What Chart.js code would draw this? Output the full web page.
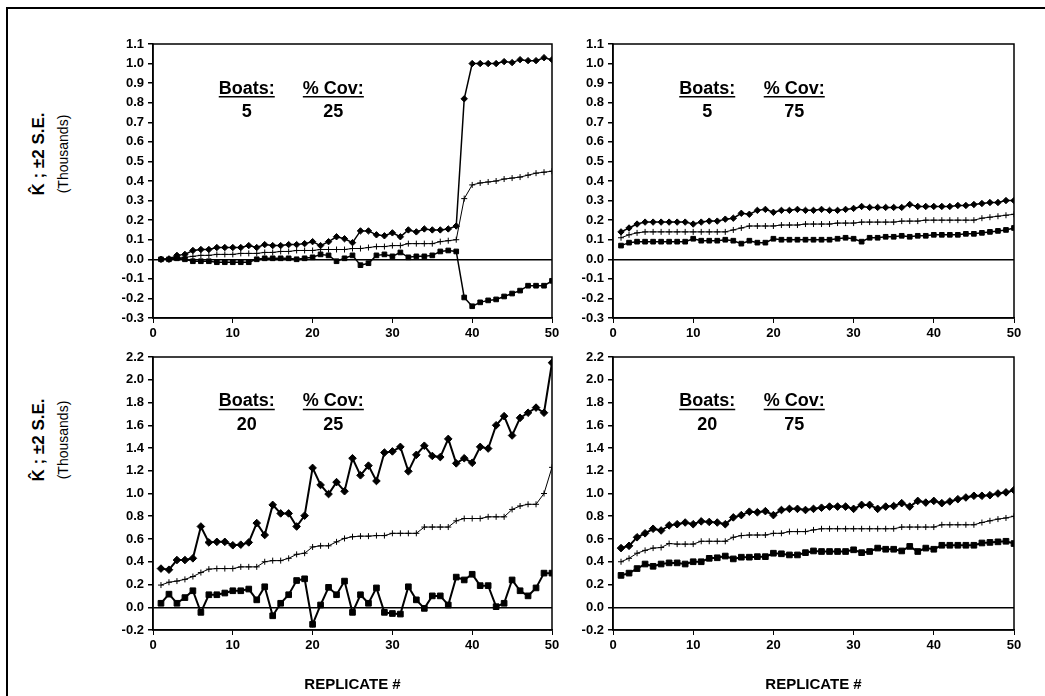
<!DOCTYPE html>
<html>
<head>
<meta charset="utf-8">
<script src="https://cdn.jsdelivr.net/npm/chart.js@4"></script>
<style>
  body { margin: 0; background: #fff; width: 1045px; height: 696px; overflow: hidden; position: relative;
         font-family: "Liberation Sans", Arial, sans-serif; }
  .frame { position: absolute; left: 6px; top: 7px; width: 1050px; height: 700px;
           border-top: 2px solid #000; border-left: 2px solid #000; }
  canvas { position: absolute; }
  .ytitle { position: absolute; white-space: nowrap; color: #000;
            transform: translate(-50%, -50%) rotate(-90deg); }
  .ytitle.main { font-weight: bold; font-size: 17px; }
  .ytitle.sub { font-size: 14px; }
</style>
</head>
<body>
<div class="frame"></div>

<div class="ytitle main" style="left:39px; top:154px;">K&#770; ; &plusmn;2 S.E.</div>
<div class="ytitle sub" style="left:63px; top:154px;">(Thousands)</div>
<div class="ytitle main" style="left:39px; top:440px;">K&#770; ; &plusmn;2 S.E.</div>
<div class="ytitle sub" style="left:63px; top:440px;">(Thousands)</div>

<canvas id="tl" width="462" height="316" style="left:100px; top:34px;"></canvas>
<canvas id="tr" width="464" height="316" style="left:560px; top:34px;"></canvas>
<canvas id="bl" width="462" height="349" style="left:100px; top:347px;"></canvas>
<canvas id="br" width="464" height="349" style="left:560px; top:347px;"></canvas>

<script>
// replicate number (x axis)
const replicates = [1,2,3,4,5,6,7,8,9,10,11,12,13,14,15,16,17,18,19,20,
  21,22,23,24,25,26,27,28,29,30,31,32,33,34,35,36,37,38,39,40,
  41,42,43,44,45,46,47,48,49,50];

// Boats 5, % Cov 25
const tlUpper = [0.0,0.0,0.02,0.025,0.045,0.05,0.05,0.06,0.06,0.06,
  0.06,0.07,0.06,0.075,0.07,0.07,0.075,0.075,0.08,0.09,
  0.07,0.09,0.115,0.105,0.085,0.145,0.145,0.125,0.12,0.135,
  0.115,0.15,0.14,0.155,0.15,0.15,0.155,0.17,0.82,1.0,
  1.0,1.0,1.0,1.01,1.005,1.02,1.015,1.015,1.03,1.02];
const tlMid = [0.0,0.005,0.01,0.01,0.015,0.02,0.02,0.025,0.025,0.025,
  0.03,0.03,0.03,0.035,0.035,0.04,0.04,0.045,0.045,0.045,
  0.05,0.05,0.05,0.05,0.055,0.055,0.06,0.065,0.065,0.07,
  0.07,0.08,0.08,0.08,0.08,0.09,0.095,0.1,0.31,0.38,
  0.39,0.395,0.40,0.41,0.415,0.42,0.43,0.44,0.445,0.45];
const tlLower = [0.0,0.0,0.005,0.0,-0.01,-0.01,-0.01,-0.015,-0.015,-0.015,
  -0.015,-0.015,0.0,0.005,0.005,0.005,0.005,0.0,0.005,0.01,
  0.025,0.02,-0.01,0.005,0.02,-0.03,-0.02,0.02,0.025,0.015,
  0.035,0.01,0.015,0.015,0.02,0.04,0.045,0.04,-0.195,-0.24,
  -0.22,-0.21,-0.205,-0.19,-0.175,-0.16,-0.135,-0.135,-0.135,-0.11];

// Boats 5, % Cov 75
const trUpper = [0.14,0.16,0.18,0.19,0.19,0.19,0.19,0.19,0.19,0.18,
  0.19,0.195,0.195,0.205,0.21,0.235,0.23,0.25,0.255,0.24,
  0.25,0.25,0.255,0.25,0.25,0.255,0.25,0.25,0.255,0.26,
  0.27,0.265,0.265,0.265,0.265,0.265,0.28,0.27,0.27,0.27,
  0.27,0.27,0.275,0.275,0.28,0.285,0.29,0.29,0.30,0.30];
const trMid = [0.11,0.125,0.135,0.14,0.14,0.14,0.14,0.14,0.14,0.14,
  0.14,0.14,0.14,0.14,0.15,0.16,0.17,0.17,0.17,0.17,
  0.175,0.175,0.175,0.18,0.18,0.18,0.18,0.185,0.185,0.185,
  0.19,0.19,0.19,0.19,0.19,0.195,0.195,0.195,0.2,0.2,
  0.2,0.2,0.2,0.2,0.2,0.21,0.215,0.22,0.225,0.23];
const trLower = [0.07,0.085,0.09,0.09,0.09,0.09,0.09,0.09,0.09,0.105,
  0.095,0.095,0.095,0.1,0.095,0.08,0.095,0.085,0.085,0.105,
  0.1,0.1,0.1,0.1,0.1,0.1,0.1,0.105,0.11,0.105,
  0.09,0.11,0.11,0.115,0.115,0.12,0.115,0.12,0.12,0.125,
  0.125,0.125,0.125,0.13,0.13,0.135,0.14,0.145,0.15,0.16];

// Boats 20, % Cov 25
const blUpper = [0.34,0.33,0.415,0.415,0.43,0.71,0.57,0.575,0.575,0.545,
  0.55,0.57,0.74,0.635,0.90,0.825,0.825,0.71,0.805,1.225,
  1.075,0.995,1.10,1.02,1.31,1.16,1.245,1.11,1.36,1.37,
  1.41,1.195,1.34,1.42,1.33,1.32,1.48,1.265,1.31,1.27,
  1.41,1.395,1.60,1.68,1.51,1.665,1.71,1.755,1.71,2.15];
const blMid = [0.195,0.22,0.23,0.245,0.27,0.305,0.335,0.34,0.34,0.34,
  0.355,0.355,0.355,0.40,0.41,0.41,0.43,0.465,0.475,0.53,
  0.54,0.54,0.575,0.605,0.62,0.625,0.625,0.63,0.63,0.65,
  0.65,0.65,0.65,0.705,0.705,0.705,0.705,0.76,0.78,0.78,
  0.78,0.795,0.795,0.795,0.86,0.89,0.905,0.905,1.0,1.23];
const blLower = [0.035,0.115,0.035,0.085,0.145,-0.045,0.11,0.11,0.125,0.145,
  0.145,0.16,0.065,0.18,-0.075,0.035,0.11,0.235,0.25,-0.15,
  0.02,0.175,0.11,0.23,-0.045,0.11,0.035,0.17,-0.045,-0.055,
  -0.06,0.18,0.065,-0.01,0.10,0.10,0.02,0.265,0.24,0.29,
  0.19,0.19,0.005,0.035,0.24,0.145,0.10,0.17,0.30,0.30];

// Boats 20, % Cov 75
const brUpper = [0.52,0.54,0.615,0.65,0.69,0.675,0.72,0.73,0.745,0.73,
  0.755,0.75,0.745,0.73,0.79,0.81,0.84,0.835,0.845,0.81,
  0.855,0.865,0.865,0.855,0.865,0.875,0.885,0.885,0.885,0.865,
  0.90,0.90,0.865,0.885,0.89,0.915,0.885,0.935,0.92,0.935,
  0.915,0.93,0.95,0.965,0.98,0.98,0.985,1.0,1.01,1.03];
const brMid = [0.40,0.43,0.475,0.50,0.52,0.525,0.56,0.555,0.555,0.555,
  0.58,0.58,0.58,0.58,0.615,0.63,0.635,0.635,0.635,0.65,
  0.65,0.665,0.665,0.665,0.68,0.69,0.69,0.69,0.69,0.69,
  0.69,0.69,0.69,0.69,0.69,0.705,0.705,0.705,0.705,0.705,
  0.725,0.725,0.725,0.725,0.725,0.745,0.76,0.775,0.785,0.80];
const brLower = [0.28,0.30,0.34,0.38,0.36,0.38,0.39,0.39,0.38,0.40,
  0.40,0.43,0.435,0.45,0.425,0.44,0.44,0.445,0.445,0.475,
  0.47,0.46,0.46,0.48,0.495,0.49,0.49,0.49,0.49,0.505,
  0.48,0.49,0.52,0.51,0.51,0.495,0.535,0.49,0.52,0.51,
  0.545,0.545,0.545,0.545,0.545,0.565,0.57,0.575,0.58,0.56];

const FONT = '"Liberation Sans", Arial, sans-serif';

// box around the plot + the Boats / % Cov labels
const panelDecor = {
  id: 'panelDecor',
  afterDraw(chart, args, opts) {
    const { ctx, chartArea: a } = chart;
    const w = a.right - a.left, h = a.bottom - a.top;
    ctx.save();
    ctx.strokeStyle = '#000';
    ctx.lineWidth = 1.5;
    ctx.strokeRect(a.left, a.top, w, h);

    ctx.fillStyle = '#000';
    ctx.textAlign = 'center';
    ctx.textBaseline = 'middle';
    ctx.font = 'bold 18px ' + FONT;
    const put = (txt, fx, fy, underline) => {
      const x = a.left + fx * w, y = a.top + fy * h;
      ctx.fillText(txt, x, y);
      if (underline) {
        const tw = ctx.measureText(txt).width;
        ctx.lineWidth = 1.5;
        ctx.beginPath();
        ctx.moveTo(x - tw / 2, y + 8);
        ctx.lineTo(x + tw / 2, y + 8);
        ctx.stroke();
      }
    };
    put('Boats:', 0.235, 0.163, true);
    put('% Cov:', 0.452, 0.163, true);
    put(opts.boats, 0.235, 0.25, false);
    put(opts.cov, 0.452, 0.25, false);
    ctx.restore();
  }
};

function series(vals) {
  return vals.map((v, i) => ({ x: replicates[i], y: v }));
}

function makePanel(id, upper, mid, lower, yMin, yMax, yStep, boats, cov, xHeight, showTitle) {
  const big = yStep > 0.1;
  const ctx = document.getElementById(id).getContext('2d');
  new Chart(ctx, {
    type: 'line',
    data: {
      datasets: [
        {
          data: series(upper),
          borderColor: '#000', backgroundColor: '#000',
          borderWidth: big ? 2 : 1.5, pointStyle: 'rectRot',
          pointRadius: big ? 3.8 : 3.2, pointBorderWidth: 1, tension: 0
        },
        {
          data: series(mid),
          borderColor: '#000', backgroundColor: '#000',
          borderWidth: 1, pointStyle: 'cross',
          pointRadius: 3, pointBorderWidth: 1, tension: 0
        },
        {
          data: series(lower),
          borderColor: '#000', backgroundColor: '#000',
          borderWidth: big ? 2 : 1.5, pointStyle: 'rect',
          pointRadius: big ? 4 : 3.3, pointBorderWidth: 1, tension: 0
        }
      ]
    },
    options: {
      responsive: false,
      animation: false,
      devicePixelRatio: 1,
      layout: { padding: { top: 10, right: 10, left: 0, bottom: 0 } },
      plugins: {
        legend: { display: false },
        tooltip: { enabled: false },
        panelDecor: { boats: boats, cov: cov }
      },
      scales: {
        x: {
          type: 'linear', min: 0, max: 50,
          ticks: { stepSize: 10, color: '#000', padding: 3,
                   font: { family: FONT, size: 13, weight: 'bold' } },
          grid: { drawOnChartArea: false, tickLength: 5, tickColor: '#000', color: '#000' },
          border: { color: '#000', width: 1.5 },
          title: { display: showTitle, text: 'REPLICATE #', color: '#000',
                   padding: { top: 0, bottom: 2 },
                   font: { family: FONT, size: 15, weight: 'bold' } },
          afterFit: s => { s.height = xHeight; s.paddingLeft = 0; s.paddingRight = 0; }
        },
        y: {
          min: yMin, max: yMax,
          ticks: { stepSize: yStep, autoSkip: false, color: '#000', padding: 4,
                   font: { family: FONT, size: 13, weight: 'bold' },
                   callback: v => v.toFixed(1) },
          grid: {
            tickLength: 5, tickColor: '#000', lineWidth: 1.5,
            color: c => (c.tick && Math.abs(c.tick.value) < 1e-9) ? '#000' : 'rgba(0,0,0,0)'
          },
          border: { color: '#000', width: 1.5 },
          afterFit: s => { s.width = 53; s.paddingTop = 0; s.paddingBottom = 0; }
        }
      }
    },
    plugins: [panelDecor]
  });
}

makePanel('tl', tlUpper, tlMid, tlLower, -0.3, 1.1, 0.1, '5', '25', 32, false);
makePanel('tr', trUpper, trMid, trLower, -0.3, 1.1, 0.1, '5', '75', 32, false);
makePanel('bl', blUpper, blMid, blLower, -0.2, 2.2, 0.2, '20', '25', 66, true);
makePanel('br', brUpper, brMid, brLower, -0.2, 2.2, 0.2, '20', '75', 66, true);
</script>
</body>
</html>
